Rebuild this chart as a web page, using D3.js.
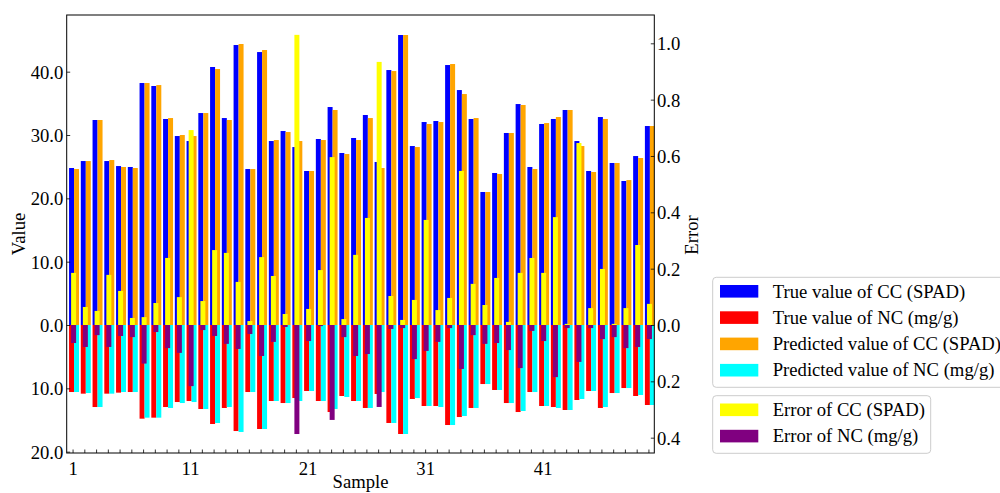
<!DOCTYPE html>
<html><head><meta charset="utf-8">
<script src="https://cdn.jsdelivr.net/npm/d3@7"></script>
<style>
body{margin:0;background:#fff}
svg text{font-family:"Liberation Serif","Times New Roman",serif;fill:#000}
</style>
</head><body><svg id="c" width="1000" height="493"></svg>
<script>
const samples = d3.range(1, 51);
const trueCC = [24.79,25.89,32.37,25.89,25.10,24.95,38.21,37.74,32.53,29.84,29.05,33.47,40.74,32.68,44.21,24.63,43.10,29.05,30.63,28.10,24.32,29.37,34.42,27.16,29.53,33.16,25.74,40.26,45.79,28.26,32.05,32.21,41.05,37.10,32.53,21.00,24.00,30.32,34.89,24.95,31.74,32.53,33.95,29.05,24.32,32.84,25.58,22.74,26.68,31.42];
const predCC = [24.63,25.89,32.37,26.05,24.95,24.79,38.21,37.89,32.68,30.00,29.84,33.47,40.42,32.37,44.37,24.63,43.42,29.21,30.47,29.05,24.32,29.21,33.95,27.00,29.21,32.68,24.79,40.10,45.79,28.10,31.74,32.05,41.21,36.47,32.68,21.00,23.84,30.32,34.74,24.63,31.89,32.84,33.95,28.26,24.16,32.53,25.58,22.89,26.37,31.42];
const trueNC = [10.58,10.84,12.95,10.84,10.68,10.58,14.79,14.63,12.95,12.16,12.00,13.26,15.63,13.10,16.74,10.58,16.42,12.00,12.32,11.53,10.42,12.00,13.74,11.21,12.00,13.10,10.89,15.47,17.21,11.68,12.79,12.79,15.79,14.53,13.10,9.32,10.26,12.32,13.74,10.58,12.79,12.95,13.42,11.84,10.42,13.10,10.74,9.95,11.21,12.63];
const predNC = [10.58,10.74,12.95,10.84,10.58,10.58,14.63,14.63,13.10,12.32,12.16,13.26,15.47,12.95,16.89,10.58,16.42,12.00,12.32,12.00,10.42,12.00,13.26,11.37,12.00,13.10,10.58,15.47,17.21,11.53,12.79,12.95,15.79,14.37,13.10,9.32,10.26,12.32,13.58,10.58,12.79,13.10,13.42,11.68,10.42,12.95,10.74,9.95,11.05,12.63];
const errCC = [0.185,0.064,0.050,0.178,0.121,0.025,0.028,0.078,0.238,0.099,0.692,0.085,0.266,0.256,0.153,0.014,0.241,0.174,0.039,1.030,0.057,0.195,0.596,0.021,0.249,0.380,0.934,0.103,0.018,0.089,0.373,0.053,0.096,0.547,0.146,0.071,0.167,0.011,0.185,0.238,0.185,0.383,0.004,0.646,0.060,0.199,0.004,0.060,0.284,0.075];
const errNC = [0.064,0.078,0.036,0.078,0.039,0.043,0.137,0.025,0.082,0.099,0.217,0.018,0.039,0.067,0.085,0.032,0.110,0.060,0.007,0.387,0.057,0.004,0.337,0.043,0.110,0.103,0.291,0.014,0.011,0.121,0.092,0.060,0.011,0.156,0.036,0.067,0.064,0.089,0.153,0.021,0.057,0.185,0.011,0.131,0.011,0.050,0.043,0.082,0.078,0.050];

const leftTicks = [-20,-10,0,10,20,30,40];
const rightTicks = [-0.4,-0.2,0,0.2,0.4,0.6,0.8,1.0];
const xLabelTicks = [1,11,21,31,41];
const legend1 = [["True value of CC (SPAD)","#0000ff"],["True value of NC (mg/g)","#ff0000"],["Predicted value of CC (SPAD)","#ffa500"],["Predicted value of NC (mg/g)","#00ffff"]];
const legend2 = [["Error of CC (SPAD)","#ffff00"],["Error of NC (mg/g)","#800080"]];

const L = 66.7, R = 654.3, T = 15, B = 453;
const svg = d3.select("#c");
const x = d3.scaleLinear().domain([0.5, 50.5]).range([L, R]);
const yL = d3.scaleLinear().domain([-20.21, 48.95]).range([B, T]);
const yR = d3.scaleLinear().domain([-0.4544, 1.1005]).range([B, T]);

svg.append("defs").append("clipPath").attr("id","clip")
  .append("rect").attr("x",L).attr("y",T).attr("width",R-L).attr("height",B-T);
const g = svg.append("g").attr("clip-path","url(#clip)");

function bars(vals, color, x0, x1, yS, sign){
  g.append("g").selectAll("rect").data(samples).join("rect")
    .attr("x", d => x(d + x0))
    .attr("width", d => x(d + x1) - x(d + x0))
    .attr("y", (d,i) => sign > 0 ? yS(vals[i]) : yS(0))
    .attr("height", (d,i) => Math.abs(yS(0) - yS(sign*vals[i])))
    .attr("fill", color);
}
bars(trueCC, "#0000ff", -0.30, 0.125, yL, 1);
bars(predCC, "#ffa500", 0.125, 0.55, yL, 1);
bars(trueNC, "#ff0000", -0.30, 0.125, yL, -1);
bars(predNC, "#00ffff", 0.125, 0.55, yL, -1);
bars(errCC, "#ffff00", -0.125, 0.30, yR, 1);
bars(errNC, "#800080", -0.125, 0.30, yR, -1);

// axes
const fs = 18.67;
const axL = d3.axisLeft(yL).tickValues(leftTicks).tickSizeInner(-3.5).tickSizeOuter(0).tickPadding(3.4)
  .tickFormat(d => Math.abs(d).toFixed(1));
const gl = svg.append("g").attr("transform",`translate(${L},0)`).call(axL);
const axR = d3.axisRight(yR).tickValues(rightTicks).tickSizeInner(-3.5).tickSizeOuter(0).tickPadding(2.7)
  .tickFormat(d => Math.abs(d).toFixed(1));
const gr = svg.append("g").attr("transform",`translate(${R},0)`).call(axR);
const axB = d3.axisBottom(x).tickValues(samples).tickSizeInner(-3.5).tickSizeOuter(0).tickPadding(9)
  .tickFormat(d => xLabelTicks.includes(d) ? String(d) : "");
const gb = svg.append("g").attr("transform",`translate(0,${B})`).call(axB);
[gl,gr,gb].forEach(a => {
  a.select(".domain").remove();
  a.selectAll(".tick line").attr("stroke","#000").attr("stroke-width",0.8);
  a.selectAll(".tick text").attr("font-size",fs).attr("font-family","Liberation Serif").attr("fill","#000");
});
gl.selectAll(".tick text").attr("dy","0.34em");
gr.selectAll(".tick text").attr("dy","0.34em");
gb.selectAll(".tick text").attr("dy","0.68em");

svg.append("rect").attr("x",L).attr("y",T).attr("width",R-L).attr("height",B-T)
  .attr("fill","none").attr("stroke","#000").attr("stroke-width",1);

// axis titles
svg.append("text").attr("x",(L+R)/2).attr("y",488).attr("text-anchor","middle").attr("font-size",fs).text("Sample");
svg.append("text").attr("transform","translate(25,234) rotate(-90)").attr("text-anchor","middle").attr("font-size",fs).text("Value");
svg.append("text").attr("transform","translate(698,235) rotate(-90)").attr("text-anchor","middle").attr("font-size",fs).text("Error");

// legends
function legend(items, bx, by, bw, bh, firstY){
  const lg = svg.append("g");
  lg.append("rect").attr("x",bx).attr("y",by).attr("width",bw).attr("height",bh)
    .attr("rx",3.5).attr("fill","#fff").attr("fill-opacity",0.8).attr("stroke","#cccccc").attr("stroke-width",1);
  items.forEach((it,i) => {
    const cy = firstY + i*26.3;
    lg.append("rect").attr("x",720).attr("y",cy-6.3).attr("width",38.3).attr("height",12.6).attr("fill",it[1]);
    lg.append("text").attr("x",772.7).attr("y",cy+6.2).attr("font-size",fs).text(it[0]);
  });
}
legend(legend1, 712.7, 277.3, 300, 110, 291.3);
legend(legend2, 712.7, 395.7, 218, 57.6, 409.8);
</script></body></html>
